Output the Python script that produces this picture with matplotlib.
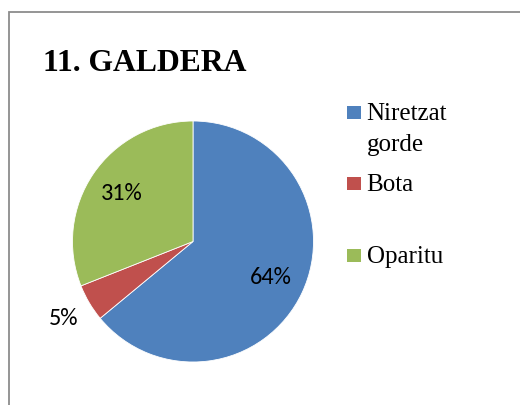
import matplotlib
matplotlib.use("Agg")
import matplotlib.pyplot as plt
from matplotlib.patches import Rectangle
import numpy as np

# data
labels = ["Niretzat\ngorde", "Bota", "Oparitu"]
values = [64, 5, 31]
colors = ["#4F81BD", "#C0504D", "#9BBB59"]
title = "11. GALDERA"

W, H = 520, 405
fig = plt.figure(figsize=(W / 100, H / 100), dpi=100)


def fx(x):
    return x / W


def fy(y):
    return 1 - y / H


# chart frame (cut off at right/bottom like the original)
fig.patches.append(Rectangle((fx(8.8), fy(H + 10)), 1.2, fy(11.8) - fy(H + 10),
                             transform=fig.transFigure, fill=False,
                             edgecolor="#8c8c8c", linewidth=1.3))

# title
fig.text(fx(43), fy(71), title, fontsize=22.8, fontweight="bold",
         family="Liberation Serif", va="baseline", ha="left")

# pie, center (193, 241.5), radius 120.5 px
cx, cy, r = 193, 241.5, 120.5
ax = fig.add_axes([fx(cx - r), fy(cy + r), 2 * r / W, 2 * r / H])
wedges, texts, autotexts = ax.pie(values, colors=colors, startangle=90,
                                  counterclock=False, radius=1,
                                  autopct="%d%%", pctdistance=0.71,
                                  wedgeprops=dict(linewidth=0.6, edgecolor="white"),
                                  textprops=dict(fontsize=17.5, family="Carlito"))
ax.set_xlim(-1, 1)
ax.set_ylim(-1, 1)

# small slice label placed outside
for w, t, v in zip(wedges, autotexts, values):
    if v < 10:
        ang = np.deg2rad((w.theta1 + w.theta2) / 2)
        t.set_position((1.25 * np.cos(ang), 1.25 * np.sin(ang)))

# legend drawn by hand to match spacing
leg_baselines = [120, 191.5, 263]
for lab, col, yb in zip(labels, colors, leg_baselines):
    fig.patches.append(Rectangle((fx(347), fy(yb - 1)), 13.5 / W, 13.5 / H,
                                 transform=fig.transFigure, facecolor=col,
                                 edgecolor="none"))
    lines = lab.split("\n")
    for i, ln in enumerate(lines):
        fig.text(fx(366.5), fy(yb + i * 31), ln, fontsize=18,
                 family="Liberation Serif", va="baseline", ha="left")

fig.savefig("out.png", dpi=100)
